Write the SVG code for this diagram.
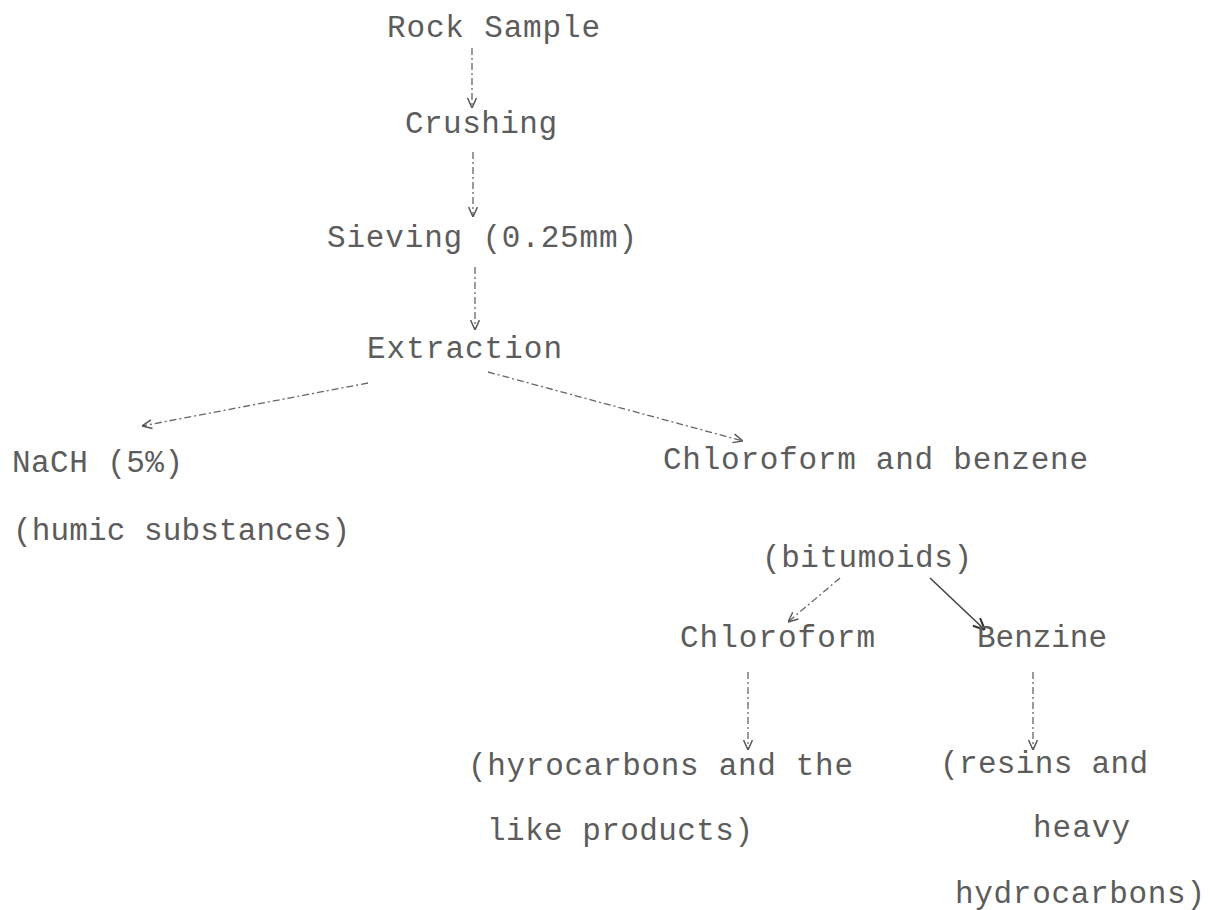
<svg xmlns="http://www.w3.org/2000/svg" width="1210" height="910" viewBox="0 0 1210 910">
<style>
text{font-family:"Liberation Mono","DejaVu Sans Mono",monospace;font-size:31px;fill:#5c5c5c}
.c{fill:none;stroke:#666;stroke-width:1.3;stroke-dasharray:7 3 2 3;marker-end:url(#ah)}
.s{fill:none;stroke:#444;stroke-width:1.6;marker-end:url(#ahd)}
</style>
<defs>
<marker id="ah" viewBox="0 0 10 10" refX="10" refY="5" markerWidth="11" markerHeight="11" markerUnits="userSpaceOnUse" orient="auto">
<path d="M1,1 L10,5 L1,9" fill="none" stroke="#555" stroke-width="1.3"/>
</marker>
<marker id="ahd" viewBox="0 0 10 10" refX="10" refY="5" markerWidth="13" markerHeight="13" markerUnits="userSpaceOnUse" orient="auto">
<path d="M1,1 L10,5 L1,9" fill="none" stroke="#333" stroke-width="1.6"/>
</marker>
</defs>
<rect width="1210" height="910" fill="#ffffff"/>
<g id="connectors">
<path class="c" d="M472,48 L472,108"/>
<path class="c" d="M473,152 L473,217"/>
<path class="c" d="M475,267 L475,330"/>
<path class="c" d="M368,383 L142,426"/>
<path class="c" d="M488,372 L743,441"/>
<path class="c" d="M840,578 L788,622"/>
<path class="s" d="M930,578 L985,630"/>
<path class="c" d="M748,672 L748,750"/>
<path class="c" d="M1033,672 L1033,750"/>
</g>
<g id="rock-sample"><text x="387" y="37" textLength="213" lengthAdjust="spacing">Rock Sample</text></g>
<g id="crushing"><text x="405" y="133" textLength="152" lengthAdjust="spacing">Crushing</text></g>
<g id="sieving"><text x="327" y="247" textLength="310" lengthAdjust="spacing">Sieving (0.25mm)</text></g>
<g id="extraction"><text x="367" y="358" textLength="195" lengthAdjust="spacing">Extraction</text></g>
<g id="nach"><text x="12" y="472" textLength="171" lengthAdjust="spacing">NaCH (5%)</text></g>
<g id="humic"><text x="13" y="540" textLength="337" lengthAdjust="spacing">(humic substances)</text></g>
<g id="chloroform-benzene"><text x="663" y="469" textLength="425" lengthAdjust="spacing">Chloroform and benzene</text></g>
<g id="bitumoids"><text x="762" y="567" textLength="210" lengthAdjust="spacing">(bitumoids)</text></g>
<g id="chloroform"><text x="680" y="647" textLength="195" lengthAdjust="spacing">Chloroform</text></g>
<g id="benzine"><text x="977" y="647" textLength="130" lengthAdjust="spacing">Benzine</text></g>
<g id="hydrocarbons-like"><text x="468" y="775" textLength="385" lengthAdjust="spacing">(hyrocarbons and the</text><text x="487" y="840" textLength="266" lengthAdjust="spacing">like products)</text></g>
<g id="resins"><text x="940" y="773" textLength="208" lengthAdjust="spacing">(resins and</text><text x="1033" y="837" textLength="97" lengthAdjust="spacing">heavy</text><text x="955" y="903" textLength="250" lengthAdjust="spacing">hydrocarbons)</text></g>
</svg>
